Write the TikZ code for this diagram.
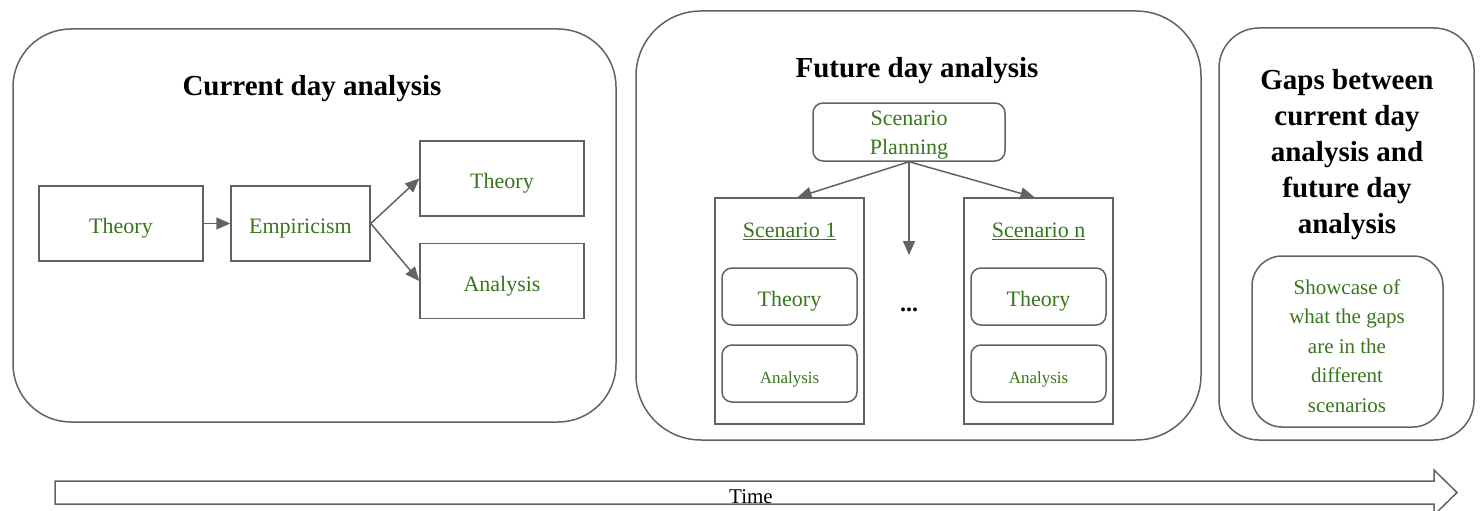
\documentclass[tikz,border=0pt]{standalone}
\usepackage{fontspec}
\setmainfont{Liberation Serif}
\usetikzlibrary{arrows.meta,calc}
\newcommand\setfs[2]{\fontsize{#1}{#2}\selectfont}
\definecolor{linegray}{HTML}{626262}
\definecolor{dgreen}{HTML}{38761D}
\tikzset{
  panel/.style={draw=linegray, line width=1.5pt, minimum width=#1},
  titletext/.style={text=black, font=\setfs{29}{36}\bfseries, align=center},
  sqbox/.style={draw=linegray, line width=1.5pt, text=dgreen, font=\setfs{22}{29.5},
    minimum width=#1, minimum height=75pt, inner sep=0pt,
    text height=20pt, text depth=0pt},
  rbox/.style={draw=linegray, line width=1.5pt, text=dgreen, rounded corners=10pt,
    minimum width=135pt, minimum height=57pt, inner sep=0pt,
    text height=19pt, text depth=0pt},
  conn/.style={draw=linegray, line width=1.5pt, -{Triangle[length=14pt,width=12pt]}},
}
\begin{document}
\begin{tikzpicture}[x=1pt,y=-1pt]
\useasboundingbox (0,0) rectangle (1483,511);

% ---- current day panel ----
\node[panel=603pt, minimum height=393pt, rounded corners=58pt] (cur) at (314.5,225.5) {};
\node[titletext] (curtitle) at (312,89) {Current day analysis};
\node[sqbox=164pt] (th0) at (121,223.5) {Theory};
\node[sqbox=139pt] (emp) at (300.5,223.5) {Empiricism};
\node[sqbox=164pt] (th1) at (502,178.5) {Theory};
\node[sqbox=164pt] (an1) at (502,281) {Analysis};
\draw[conn] (th0.east) -- (emp.west);
\draw[conn] (emp.east) -- (th1.west);
\draw[conn] (emp.east) -- (an1.west);

% ---- future day panel ----
\node[panel=565pt, minimum height=429pt, rounded corners=65pt] (fut) at (918.5,225.5) {};
\node[titletext] (futtitle) at (917,71) {Future day analysis};
\node[draw=linegray, line width=1.5pt, rounded corners=10pt,
      minimum width=192pt, minimum height=58pt] (plan) at (909,132) {};
\node[text=dgreen, font=\setfs{22}{29}, align=center] (planlbl) at (909,135)
  {Scenario\\Planning};
\node[draw=linegray, line width=1.5pt, minimum width=149pt, minimum height=226pt] (sc1) at (789.5,311) {};
\node[draw=linegray, line width=1.5pt, minimum width=149pt, minimum height=226pt] (scn) at (1038.5,311) {};
\node[text=dgreen, font=\setfs{22}{29}] (sc1lbl) at (789.5,231) {\underline{Scenario 1}};
\node[text=dgreen, font=\setfs{22}{29}] (scnlbl) at (1038.5,231) {\underline{Scenario n}};
\node[rbox, font=\setfs{22}{29}] (sc1th) at (789.5,296.5) {Theory};
\node[rbox, font=\setfs{17}{22}] (sc1an) at (789.5,373.5) {Analysis};
\node[rbox, font=\setfs{22}{29}] (scnth) at (1038.5,296.5) {Theory};
\node[rbox, font=\setfs{17}{22}] (scnan) at (1038.5,373.5) {Analysis};
\node[anchor=base, font=\setfs{24}{29}\bfseries] (dots) at (909,311) {...};
\coordinate (midend) at (909,255);
\draw[conn] (plan.south) -- ([xshift=8pt]sc1.north);
\draw[conn] (plan.south) -- (midend);
\draw[conn] (plan.south) -- ([xshift=-4pt]scn.north);

% ---- gaps panel ----
\node[panel=255pt, minimum height=412pt, rounded corners=40pt] (gap) at (1346.5,234) {};
\node[titletext] (gaptitle) at (1347,154.5)
  {Gaps between\\current day\\analysis and\\future day\\analysis};
\node[draw=linegray, line width=1.5pt, rounded corners=30pt, minimum width=191pt,
      minimum height=171pt] (show) at (1347.5,341.5) {};
\node[text=dgreen, font=\setfs{21}{29.5}, align=center] (showtxt) at (1347,346)
  {Showcase of\\what the gaps\\are in the\\different\\scenarios};

% ---- time arrow ----
\draw[draw=linegray, line width=1.5pt, line join=miter]
  (55,481) -- (1434,481) -- (1434,470) -- (1457,492.5) -- (1434,515)
  -- (1434,504) -- (55,504) -- cycle;
\node[anchor=base, font=\setfs{21}{25}] (time) at (751,503) {Time};
\end{tikzpicture}
\end{document}
